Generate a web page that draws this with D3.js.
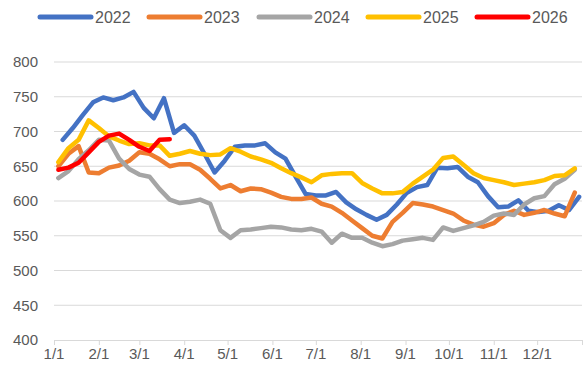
<!DOCTYPE html>
<html><head><meta charset="utf-8">
<script src="https://cdn.jsdelivr.net/npm/d3@7"></script>
<style>body{margin:0;background:#fff}svg{display:block;font-family:"Liberation Sans",Arial,sans-serif}</style>
</head><body><svg id="c" width="584" height="381"></svg>
<script>
const years = ["2022","2023","2024","2025","2026"];
const colors = ["#4472C4","#ED7D31","#A5A5A5","#FFC000","#FF0000"];
const startDay = [6,3,3,3,3];
const v2022 = [688,705,724,742,749,745,749,757,734,719,748,698,709,694,668,641,658,678,680,680,683,670,661,635,610,608,608,613,598,588,580,573,580,595,612,620,623,648,647,649,635,627,607,591,592,601,586,584,586,594,587,606];
const v2023 = [650,668,679,641,640,648,651,658,670,668,660,650,653,653,645,632,618,623,614,618,617,612,606,603,603,605,596,592,583,572,561,550,546,570,583,597,595,592,587,582,572,566,563,568,580,586,580,583,587,582,578,612];
const v2024 = [633,643,660,673,688,687,661,646,638,635,617,602,597,599,602,596,558,547,558,559,561,563,562,559,558,560,556,540,553,547,547,540,535,538,543,545,547,544,562,557,561,565,570,579,582,580,595,604,607,624,632,645];
const v2025 = [656,676,688,716,705,693,687,682,683,680,680,665,668,672,668,666,667,676,671,664,660,655,647,640,634,627,637,639,640,640,626,618,611,611,613,625,635,645,662,664,652,640,633,630,627,623,625,627,630,636,637,647];
const v2026 = [645,648,655,670,685,694,697,688,678,672,688,689];
const values = [v2022,v2023,v2024,v2025,v2026];
const yTicks = [400,450,500,550,600,650,700,750,800];
const monthLabels = ["1/1","2/1","3/1","4/1","5/1","6/1","7/1","8/1","9/1","10/1","11/1","12/1"];
const monthStartDays = [0,31,59,90,120,151,181,212,243,273,304,334,365];

const svg = d3.select("#c");
const L=54,R=582,T=62,B=340;
const x = d3.scaleLinear().domain([0,365]).range([L,R]);
const y = d3.scaleLinear().domain([400,800]).range([B,T]);

svg.append("g").selectAll("line").data(yTicks.filter(d=>d>400)).join("line")
  .attr("x1",L).attr("x2",R).attr("y1",d=>y(d)).attr("y2",d=>y(d))
  .attr("stroke","#d9d9d9").attr("stroke-width",1);

svg.append("g").selectAll("text").data(yTicks).join("text")
  .attr("x",38).attr("y",d=>y(d)).attr("dy","0.35em").attr("text-anchor","end")
  .attr("font-size",15).attr("fill","#595959").text(d=>d);

const xa = svg.append("g").attr("transform",`translate(0,${B})`)
  .call(d3.axisBottom(x).tickValues(monthStartDays).tickSize(5).tickFormat(""));
xa.select(".domain").attr("stroke","#d9d9d9");
xa.selectAll(".tick line").attr("stroke","#d9d9d9");
svg.append("g").selectAll("text").data(monthLabels).join("text")
  .attr("x",(d,i)=>x(monthStartDays[i])).attr("y",B+19).attr("text-anchor","middle")
  .attr("font-size",15).attr("fill","#595959").text(d=>d);

const line = d3.line();
years.forEach((yr,k)=>{
  const pts = values[k].map((v,i)=>[x(startDay[k]+7*i), y(v)]);
  svg.append("path").attr("d",line(pts)).attr("fill","none")
    .attr("stroke",colors[k]).attr("stroke-width",4.5)
    .attr("stroke-linejoin","round").attr("stroke-linecap","round");
});

const legX = [40,149,259,368,477];
const lg = svg.append("g");
years.forEach((yr,k)=>{
  lg.append("line").attr("x1",legX[k]).attr("x2",legX[k]+51).attr("y1",17).attr("y2",17)
    .attr("stroke",colors[k]).attr("stroke-width",5).attr("stroke-linecap","round");
  lg.append("text").attr("x",legX[k]+55).attr("y",17).attr("dy","0.35em")
    .attr("font-size",16).attr("fill","#595959").text(yr);
});
</script></body></html>
